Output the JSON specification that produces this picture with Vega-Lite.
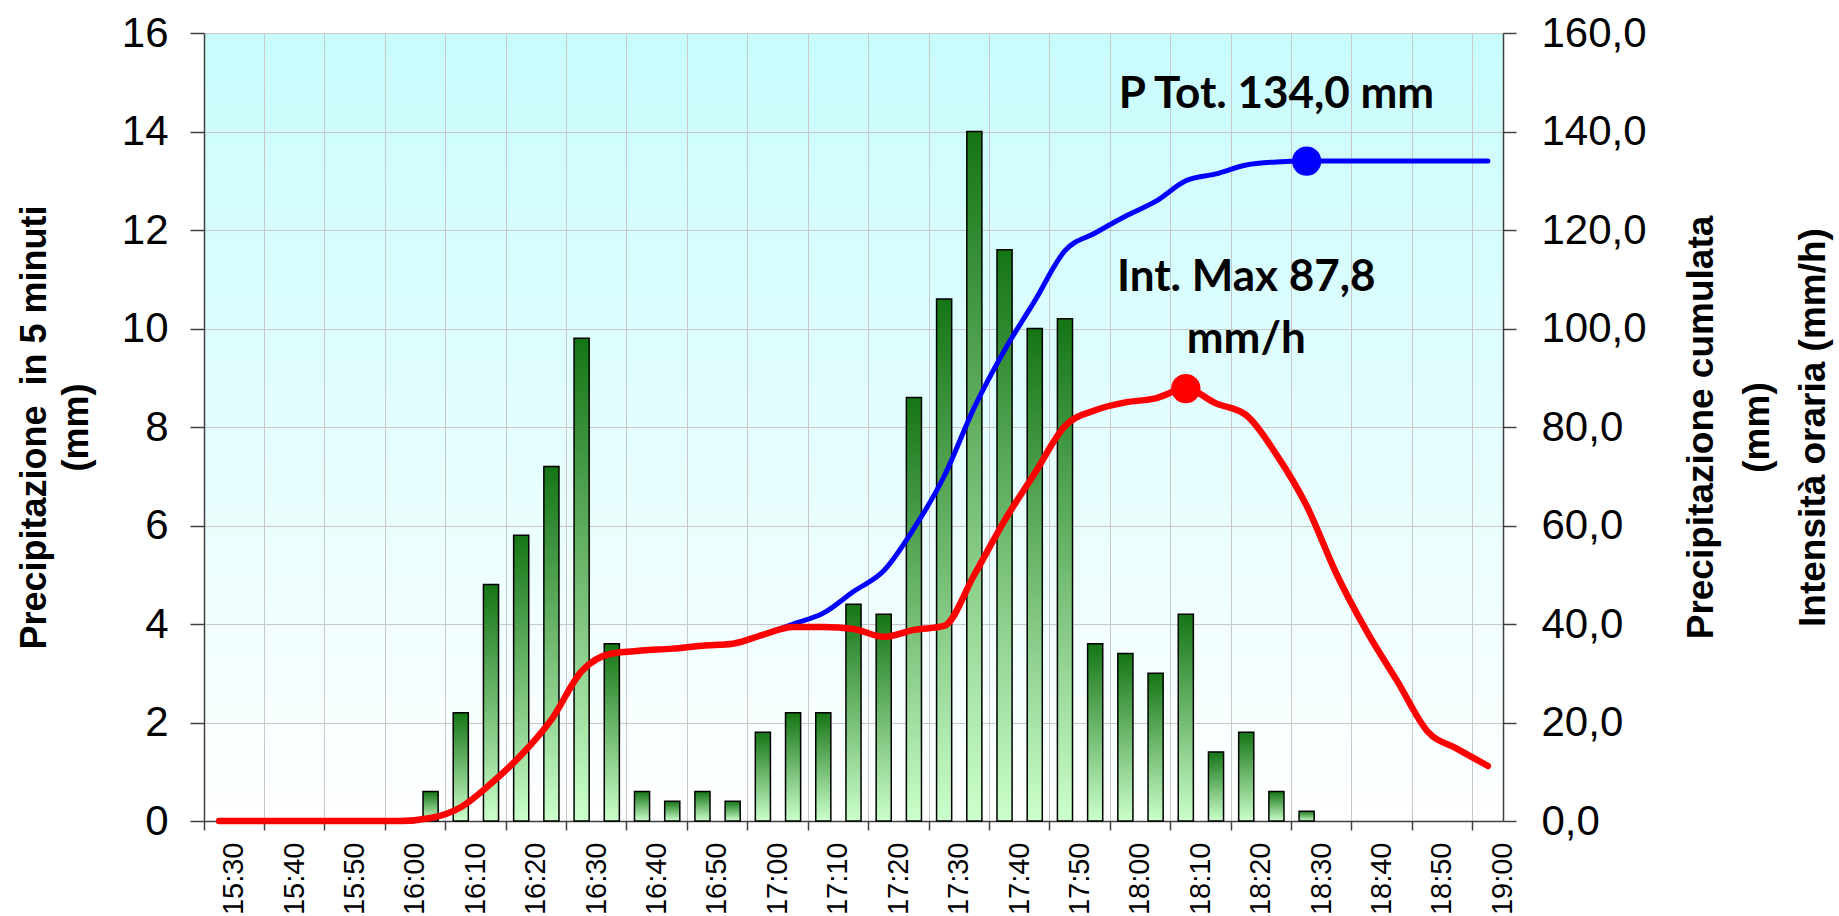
{
  "$schema": "https://vega.github.io/schema/vega-lite/v6.json",
  "width": 1299,
  "height": 788,
  "padding": {"left": 16, "top": 12, "right": 120, "bottom": 0},
  "background": "white",
  "config": {
    "view": {
      "stroke": null,
      "fill": {"gradient": "linear", "x1": 0, "y1": 0, "x2": 0, "y2": 1,
        "stops": [{"offset": 0, "color": "#c8fcfd"}, {"offset": 1, "color": "#ffffff"}]}
    }
  },
  "datasets": {
    "rain": [
      {"t": "15:30", "p": 0, "cum": 0, "int": 0},
      {"t": "15:35", "p": 0, "cum": 0, "int": 0},
      {"t": "15:40", "p": 0, "cum": 0, "int": 0},
      {"t": "15:45", "p": 0, "cum": 0, "int": 0},
      {"t": "15:50", "p": 0, "cum": 0, "int": 0},
      {"t": "15:55", "p": 0, "cum": 0, "int": 0},
      {"t": "16:00", "p": 0, "cum": 0, "int": 0},
      {"t": "16:05", "p": 0.6, "cum": 0.6, "int": 0.6},
      {"t": "16:10", "p": 2.2, "cum": 2.8, "int": 2.8},
      {"t": "16:15", "p": 4.8, "cum": 7.6, "int": 7.6},
      {"t": "16:20", "p": 5.8, "cum": 13.4, "int": 13.4},
      {"t": "16:25", "p": 7.2, "cum": 20.6, "int": 20.6},
      {"t": "16:30", "p": 9.8, "cum": 30.4, "int": 30.4},
      {"t": "16:35", "p": 3.6, "cum": 34.0, "int": 34.0},
      {"t": "16:40", "p": 0.6, "cum": 34.6, "int": 34.6},
      {"t": "16:45", "p": 0.4, "cum": 35.0, "int": 35.0},
      {"t": "16:50", "p": 0.6, "cum": 35.6, "int": 35.6},
      {"t": "16:55", "p": 0.4, "cum": 36.0, "int": 36.0},
      {"t": "17:00", "p": 1.8, "cum": 37.8, "int": 37.8},
      {"t": "17:05", "p": 2.2, "cum": 40.0, "int": 39.4},
      {"t": "17:10", "p": 2.2, "cum": 42.2, "int": 39.4},
      {"t": "17:15", "p": 4.4, "cum": 46.6, "int": 39.0},
      {"t": "17:20", "p": 4.2, "cum": 50.8, "int": 37.4},
      {"t": "17:25", "p": 8.6, "cum": 59.4, "int": 38.8},
      {"t": "17:30", "p": 10.6, "cum": 70.0, "int": 39.6},
      {"t": "17:35", "p": 14.0, "cum": 84.0, "int": 50.0},
      {"t": "17:40", "p": 11.6, "cum": 95.6, "int": 61.0},
      {"t": "17:45", "p": 10.0, "cum": 105.6, "int": 70.6},
      {"t": "17:50", "p": 10.2, "cum": 115.8, "int": 80.2},
      {"t": "17:55", "p": 3.6, "cum": 119.4, "int": 83.4},
      {"t": "18:00", "p": 3.4, "cum": 122.8, "int": 85.0},
      {"t": "18:05", "p": 3.0, "cum": 125.8, "int": 85.8},
      {"t": "18:10", "p": 4.2, "cum": 130.0, "int": 87.8},
      {"t": "18:15", "p": 1.4, "cum": 131.4, "int": 84.8},
      {"t": "18:20", "p": 1.8, "cum": 133.2, "int": 82.4},
      {"t": "18:25", "p": 0.6, "cum": 133.8, "int": 74.4},
      {"t": "18:30", "p": 0.2, "cum": 134.0, "int": 64.0},
      {"t": "18:35", "p": 0, "cum": 134.0, "int": 50.0},
      {"t": "18:40", "p": 0, "cum": 134.0, "int": 38.4},
      {"t": "18:45", "p": 0, "cum": 134.0, "int": 28.4},
      {"t": "18:50", "p": 0, "cum": 134.0, "int": 18.2},
      {"t": "18:55", "p": 0, "cum": 134.0, "int": 14.6},
      {"t": "19:00", "p": 0, "cum": 134.0, "int": 11.2}
    ],
    "peaks": [
      {"t": "18:30", "v": 134.0, "s": "cum"},
      {"t": "18:10", "v": 87.8, "s": "int"}
    ],
    "notes": [
      {"t": "18:25", "v": 147.4, "label": "P Tot. 134,0 mm"},
      {"t": "18:20", "v": 110.3, "label": "Int. Max 87,8"},
      {"t": "18:20", "v": 97.7, "label": "mm/h"}
    ]
  },
  "data": {"name": "rain"},
  "encoding": {
    "x": {
      "field": "t", "type": "ordinal",
      "scale": {
        "domain": ["15:30","15:35","15:40","15:45","15:50","15:55","16:00","16:05","16:10","16:15","16:20","16:25","16:30","16:35","16:40","16:45","16:50","16:55","17:00","17:05","17:10","17:15","17:20","17:25","17:30","17:35","17:40","17:45","17:50","17:55","18:00","18:05","18:10","18:15","18:20","18:25","18:30","18:35","18:40","18:45","18:50","18:55","19:00"],
        "paddingInner": 0, "paddingOuter": 0
      },
      "axis": {
        "values": ["15:30","15:40","15:50","16:00","16:10","16:20","16:30","16:40","16:50","17:00","17:10","17:20","17:30","17:40","17:50","18:00","18:10","18:20","18:30","18:40","18:50","19:00"],
        "bandPosition": 0,
        "labelOffset": 15,
        "labelAngle": -90,
        "labelFont": "Liberation Sans",
        "labelFontSize": 29,
        "labelColor": "black",
        "labelPadding": 12,
        "tickSize": 9,
        "tickColor": "#404040",
        "tickWidth": 1.5,
        "domainColor": "#404040",
        "domainWidth": 1.5,
        "grid": true,
        "gridColor": "#c8c8c8",
        "gridWidth": 1,
        "title": null
      }
    }
  },
  "layer": [
    {
      "transform": [{"filter": "datum.p > 0"}],
      "mark": {
        "type": "bar",
        "width": {"band": 0.5},
        "fill": {"gradient": "linear", "x1": 0, "y1": 0, "x2": 0, "y2": 1,
          "stops": [{"offset": 0, "color": "#157515"}, {"offset": 1, "color": "#ccffcc"}]},
        "stroke": "black",
        "strokeWidth": 1.5
      },
      "encoding": {
        "y": {
          "field": "p", "type": "quantitative",
          "scale": {"domain": [0, 16], "nice": false},
          "axis": {
            "values": [0, 2, 4, 6, 8, 10, 12, 14, 16],
            "title": ["Precipitazione\u00a0 in 5 minuti", "(mm)"],
            "titleFont": "Liberation Sans",
            "titleFontSize": 36,
            "titleFontWeight": "bold",
            "titleColor": "black",
            "titleLineHeight": 42,
            "titlePadding": 26,
            "labelFont": "Liberation Sans",
            "labelFontSize": 42,
            "labelColor": "black",
            "labelPadding": 22,
            "tickSize": 14,
            "tickColor": "#404040",
            "tickWidth": 1.5,
            "domainColor": "#404040",
            "domainWidth": 1.5,
            "grid": true,
            "gridColor": "#c8c8c8",
            "gridWidth": 1
          }
        }
      }
    },
    {
      "encoding": {
        "y": {
          "field": "v", "type": "quantitative",
          "scale": {"domain": [0, 160], "nice": false},
          "axis": {
            "orient": "right",
            "values": [0, 20, 40, 60, 80, 100, 120, 140, 160],
            "labelExpr": "replace(format(datum.value, '.1f'), '.', ',')",
            "title": ["Precipitazione cumulata", "(mm)", "Intensità oraria (mm/h)"],
            "titleAngle": 270,
            "titleBaseline": "top",
            "titleFont": "Liberation Sans",
            "titleFontSize": 37,
            "titleFontWeight": "bold",
            "titleColor": "black",
            "titleLineHeight": 56,
            "titlePadding": -75,
            "labelFont": "Liberation Sans",
            "labelFontSize": 42,
            "labelColor": "black",
            "labelPadding": 25,
            "tickSize": 13,
            "tickColor": "#404040",
            "tickWidth": 1.5,
            "domainColor": "#404040",
            "domainWidth": 1.5,
            "grid": false
          }
        }
      },
      "layer": [
        {
          "transform": [{"fold": ["cum", "int"], "as": ["s", "v"]}, {"filter": "datum.s == 'cum'"}],
          "mark": {"type": "line", "color": "#0000ff", "strokeWidth": 5, "interpolate": "monotone", "strokeCap": "round"}
        },
        {
          "transform": [{"fold": ["cum", "int"], "as": ["s", "v"]}, {"filter": "datum.s == 'int'"}],
          "mark": {"type": "line", "color": "#ff0000", "strokeWidth": 6.5, "interpolate": "monotone", "strokeCap": "round"}
        },
        {
          "data": {"name": "peaks"},
          "mark": {"type": "point", "filled": true, "size": 860, "opacity": 1},
          "encoding": {
            "color": {"field": "s", "type": "nominal", "scale": {"domain": ["cum", "int"], "range": ["#0000ff", "#ff0000"]}, "legend": null}
          }
        },
        {
          "data": {"name": "notes"},
          "mark": {"type": "text", "font": "Lato", "fontWeight": "bold", "fontSize": 44, "color": "black", "baseline": "middle", "align": "center"},
          "encoding": {"text": {"field": "label"}}
        }
      ]
    }
  ],
  "resolve": {"scale": {"y": "independent"}}
}
